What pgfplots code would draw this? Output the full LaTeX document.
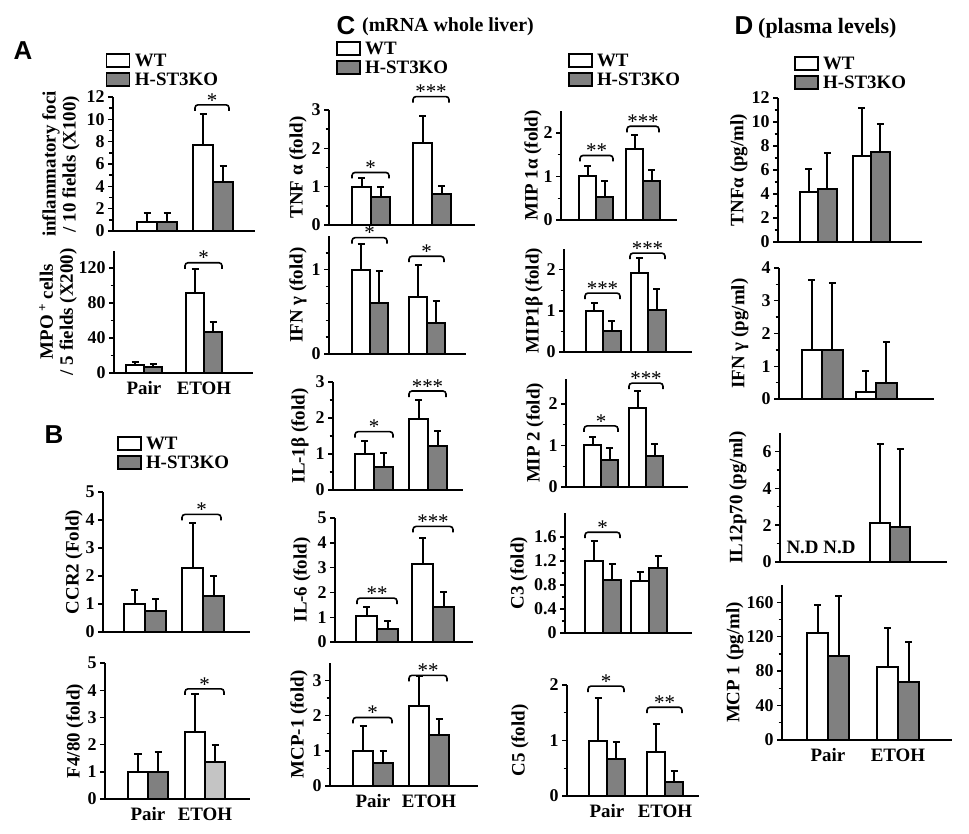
\documentclass[border=0pt]{standalone}
\usepackage{fontspec}
\setmainfont{Liberation Serif}
\newfontfamily\hv{Liberation Sans}
\usepackage{pgfplots}
\pgfplotsset{compat=1.18}
\definecolor{ko}{HTML}{808080}
\definecolor{kol}{HTML}{C4C4C4}
\newcommand{\fs}[1]{\fontsize{#1}{#1}\selectfont\bfseries}
\newcommand{\brk}[4]{\draw[line width=1.6bp, rounded corners=3bp] (axis cs:#1,#3) ++(0,-6bp) -- (axis cs:#1,#3) -- node[midway, above, yshift=-4bp, inner sep=1bp, font=\fontsize{21}{21}\selectfont] {#4} (axis cs:#2,#3) -- ++(0,-6bp);}
\pgfplotsset{
  pnl/.style n args={4}{anchor=south west, at={(#1bp,-#2bp)}, width=#3bp, height=#4bp, xmin=0, xmax=#3},
  base/.style={scale only axis, ybar, enlargelimits=false, ymin=0,
    axis x line=bottom, axis y line=left, axis line style={-, line width=2bp},
    every non boxed x axis/.append style={x axis line style=-},
    every non boxed y axis/.append style={y axis line style=-},
    tick align=outside, major tick length=5bp, minor tick length=3.5bp,
    every tick/.style={black, line width=1.4bp}, xtick style={draw=none}, xtick=\empty,
    tick label style={font=\fs{18}}, xticklabel style={font=\fs{19}},
    /pgf/number format/assume math mode=true,
    label style={font=\fontsize{19}{20}\selectfont\bfseries, align=center}, clip=false,
    legend cell align=left,
    legend style={draw=none, fill=none, inner sep=0pt, font=\fs{19}, row sep=2bp,
      nodes={inner sep=1.5bp}, /tikz/every odd column/.append style={column sep=3bp}}},
  bb/.style 2 args={fill=#1, draw=black, line width=2bp, bar shift=#2bp,
    /pgfplots/legend image code/.code={\draw[##1, line width=1.8bp] (0bp,-6.5bp) rectangle (23bp,6.5bp);},
    error bars/.cd, y dir=plus, y explicit,
    error bar style={line width=2bp, black, solid},
    error mark options={rotate=90, line width=2bp, mark size=3.5bp, black}},
  yl/.style={ylabel style={at={([xshift=-#1bp]axis description cs:0,0.5)}, anchor=center}},
}
\begin{document}
\begin{tikzpicture}
\useasboundingbox (0,0) rectangle (969bp,-834bp);
% ---------------- A ----------------
\begin{axis}[base, pnl={113}{231}{142}{134}, ymax=12, ytick={0,2,...,12}, minor y tick num=1,
  bar width=20bp, yl=52, ylabel={inflammatory foci\\/ 10 fields (X100)},
  legend style={at={(-0.053,1.335)}, anchor=north west}]
\addplot[bb={white}{-10}] coordinates {(44,0.8) +- (0,0.8) (100,7.7) +- (0,2.8)};
\addplot[bb={ko}{10}] coordinates {(44,0.8) +- (0,0.8) (100,4.4) +- (0,1.4)};
\legend{WT,H-ST3KO}
\brk{82}{116}{11.3}{*}
\end{axis}
\begin{axis}[base, pnl={114}{373}{139}{122.5}, ymax=140, ytick={0,40,80,120}, minor y tick num=1,
  bar width=18bp, yl=56, ylabel={MPO\,\textsuperscript{+} cells\\/ 5 fields (X200)},
  xtick={30,90}, xticklabels={Pair,ETOH}]
\addplot[bb={white}{-9}] coordinates {(30,9) +- (0,4) (90,92) +- (0,27)};
\addplot[bb={ko}{9}] coordinates {(30,7) +- (0,3) (90,47) +- (0,11)};
\brk{71}{108}{126}{*}
\end{axis}
% ---------------- B ----------------
\begin{axis}[base, pnl={103}{632}{147}{140}, ymax=5, ytick={0,1,...,5},
  bar width=21bp, yl=29, ylabel={CCR2 (Fold)},
  legend style={at={(0.092,1.407)}, anchor=north west}]
\addplot[bb={white}{-10.5}] coordinates {(42,1.0) +- (0,0.5) (100,2.3) +- (0,1.6)};
\addplot[bb={ko}{10.5}] coordinates {(42,0.75) +- (0,0.42) (100,1.28) +- (0,0.72)};
\legend{WT,H-ST3KO}
\brk{79}{118}{4.2}{*}
\end{axis}
\begin{axis}[base, pnl={105}{799}{145}{136}, ymax=5, ytick={0,1,...,5},
  bar width=20bp, yl=30, ylabel={F4/80 (fold)}, xtick={43,100}, xticklabels={Pair,ETOH}]
\addplot[bb={white}{-10}] coordinates {(43,1.0) +- (0,0.67) (100,2.45) +- (0,1.4)};
\addplot[bb={ko}{10}] coordinates {(43,1.0) +- (0,0.73)};
\addplot[bb={kol}{10}] coordinates {(100,1.37) +- (0,0.61)};
\brk{80}{119}{4.05}{*}
\end{axis}
% ---------------- C col 1 ----------------
\begin{axis}[base, pnl={329}{225}{146}{115}, ymax=3, ytick={0,1,2,3}, minor y tick num=1,
  bar width=19bp, yl=31, ylabel={TNF α (fold)},
  legend style={at={(0.045,1.609)}, anchor=north west}]
\addplot[bb={white}{-9.5}] coordinates {(42,1.0) +- (0,0.22) (103,2.13) +- (0,0.72)};
\addplot[bb={ko}{9.5}] coordinates {(42,0.72) +- (0,0.28) (103,0.82) +- (0,0.2)};
\legend{WT,H-ST3KO}
\brk{23}{60}{1.37}{*}
\brk{84}{120}{3.35}{***}
\end{axis}
\begin{axis}[base, pnl={329}{354}{137}{118}, ymax=1.4, ytick={0,1}, minor ytick={0.2,0.4,0.6,0.8,1.2},
  bar width=18bp, yl=31, ylabel={IFN γ (fold)}]
\addplot[bb={white}{-9}] coordinates {(41,1.0) +- (0,0.3) (98,0.68) +- (0,0.38)};
\addplot[bb={ko}{9}] coordinates {(41,0.6) +- (0,0.39) (98,0.37) +- (0,0.26)};
\brk{23}{58}{1.38}{*}
\brk{80}{115}{1.16}{*}
\end{axis}
\begin{axis}[base, pnl={333}{490}{130}{108}, ymax=3, ytick={0,1,2,3}, minor y tick num=1,
  bar width=19bp, yl=33, ylabel={IL-1β (fold)}]
\addplot[bb={white}{-9.5}] coordinates {(41,1.0) +- (0,0.35) (95,1.98) +- (0,0.52)};
\addplot[bb={ko}{9.5}] coordinates {(41,0.65) +- (0,0.37) (95,1.22) +- (0,0.42)};
\brk{22}{60}{1.62}{*}
\brk{76}{113}{2.75}{***}
\end{axis}
\begin{axis}[base, pnl={335}{642}{138}{124}, ymax=5, ytick={0,1,...,5},
  bar width=21bp, yl=33, ylabel={IL-6 (fold)}]
\addplot[bb={white}{-10.5}] coordinates {(42,1.03) +- (0,0.38) (98,3.13) +- (0,1.07)};
\addplot[bb={ko}{10.5}] coordinates {(42,0.52) +- (0,0.33) (98,1.42) +- (0,0.6)};
\brk{22}{62}{1.77}{**}
\brk{78}{118}{4.66}{***}
\end{axis}
\begin{axis}[base, pnl={330}{786}{148}{123}, ymax=3.5, ytick={0,1,2,3}, minor y tick num=1,
  bar width=20bp, yl=31, ylabel={MCP-1 (fold)}, xtick={43,99}, xticklabels={Pair,ETOH}]
\addplot[bb={white}{-10}] coordinates {(43,1.0) +- (0,0.7) (99,2.27) +- (0,0.85)};
\addplot[bb={ko}{10}] coordinates {(43,0.66) +- (0,0.35) (99,1.45) +- (0,0.45)};
\brk{23}{62}{1.95}{*}
\brk{79}{117}{3.15}{**}
\end{axis}
% ---------------- C col 2 ----------------
\begin{axis}[base, pnl={561}{220}{116}{109}, ymax=2.5, ytick={0,1,2}, minor y tick num=1,
  bar width=17bp, yl=28, ylabel={MIP 1α (fold)},
  legend style={at={(0.056,1.541)}, anchor=north west}]
\addplot[bb={white}{-8.5}] coordinates {(35,1.0) +- (0,0.25) (82,1.62) +- (0,0.32)};
\addplot[bb={ko}{8.5}] coordinates {(35,0.52) +- (0,0.38) (82,0.9) +- (0,0.25)};
\legend{WT,H-ST3KO}
\brk{19}{52}{1.48}{**}
\brk{66}{98}{2.15}{***}
\end{axis}
\begin{axis}[base, pnl={564}{352}{128}{103}, ymax=2.5, ytick={0,1,2}, minor y tick num=1,
  bar width=17.5bp, yl=30, ylabel={MIP1β (fold)}]
\addplot[bb={white}{-8.75}] coordinates {(39,1.0) +- (0,0.2) (84,1.92) +- (0,0.35)};
\addplot[bb={ko}{8.75}] coordinates {(39,0.5) +- (0,0.25) (84,1.02) +- (0,0.5)};
\brk{21}{56}{1.43}{***}
\brk{66}{101}{2.4}{***}
\end{axis}
\begin{axis}[base, pnl={566}{487}{122}{108}, ymax=2.6, ytick={0,1,2}, minor y tick num=1,
  bar width=17bp, yl=31, ylabel={MIP 2 (fold)}]
\addplot[bb={white}{-8.5}] coordinates {(35,1.0) +- (0,0.2) (80,1.9) +- (0,0.4)};
\addplot[bb={ko}{8.5}] coordinates {(35,0.65) +- (0,0.28) (80,0.74) +- (0,0.3)};
\brk{18}{52}{1.47}{*}
\brk{63}{97}{2.5}{***}
\end{axis}
\begin{axis}[base, pnl={565}{633}{127}{120}, ymax=2, ytick={0,0.4,0.8,1.2,1.6}, minor y tick num=1,
  bar width=18bp, yl=46, ylabel={C3 (fold)}]
\addplot[bb={white}{-9}] coordinates {(38,1.2) +- (0,0.34) (84,0.86) +- (0,0.16)};
\addplot[bb={ko}{9}] coordinates {(38,0.88) +- (0,0.27) (84,1.08) +- (0,0.2)};
\brk{20}{55}{1.68}{*}
\end{axis}
\begin{axis}[base, pnl={567}{796}{132}{111}, ymax=2, ytick={0,1,2}, minor y tick num=1,
  bar width=18bp, yl=47, ylabel={C5 (fold)}, xtick={40,98}, xticklabels={Pair,ETOH}]
\addplot[bb={white}{-9}] coordinates {(40,1.0) +- (0,0.77) (98,0.8) +- (0,0.5)};
\addplot[bb={ko}{9}] coordinates {(40,0.66) +- (0,0.32) (98,0.25) +- (0,0.2)};
\brk{21}{57}{1.98}{*}
\brk{80}{115}{1.6}{**}
\end{axis}
% ---------------- D ----------------
\begin{axis}[base, pnl={778}{242}{144}{144}, ymax=12, ytick={0,2,...,12}, minor y tick num=1,
  bar width=18.5bp, yl=39, ylabel={TNFα (pg/ml)},
  legend style={at={(0.108,1.299)}, anchor=north west}]
\addplot[bb={white}{-9.25}] coordinates {(40,4.15) +- (0,1.9) (93,7.2) +- (0,4.0)};
\addplot[bb={ko}{9.25}] coordinates {(40,4.45) +- (0,2.95) (93,7.46) +- (0,2.4)};
\legend{WT,H-ST3KO}
\end{axis}
\begin{axis}[base, pnl={779}{399}{155}{131}, ymax=4, ytick={0,1,...,4}, minor y tick num=1,
  bar width=20.5bp, yl=39, ylabel={IFN γ (pg/ml)}]
\addplot[bb={white}{-10.25}] coordinates {(43,1.5) +- (0,2.13) (97,0.2) +- (0,0.65)};
\addplot[bb={ko}{10.25}] coordinates {(43,1.5) +- (0,2.03) (97,0.5) +- (0,1.25)};
\end{axis}
\begin{axis}[base, pnl={780}{562}{167}{129}, ymax=7, ytick={0,2,4,6}, minor y tick num=1,
  bar width=20bp, yl=42, ylabel={IL12p70 (pg/ml)}]
\addplot[bb={white}{-10}] coordinates {(110,2.1) +- (0,4.3)};
\addplot[bb={ko}{10}] coordinates {(110,1.9) +- (0,4.25)};
\node[font=\fs{19}] at (axis cs:41,0.8) {N.D N.D};
\end{axis}
\begin{axis}[base, pnl={782}{740}{170}{155}, ymax=180, ytick={0,40,...,160}, minor y tick num=1,
  bar width=21bp, yl=47, ylabel={MCP 1 (pg/ml)}, xtick={46,116}, xticklabels={Pair,ETOH}]
\addplot[bb={white}{-10.5}] coordinates {(46,124) +- (0,33) (116,85) +- (0,45)};
\addplot[bb={ko}{10.5}] coordinates {(46,97) +- (0,70) (116,67) +- (0,47)};
\end{axis}
% ---------------- titles ----------------
\node[font=\hv\fontsize{26}{26}\selectfont\bfseries] at (23bp,-51bp) {A};
\node[font=\hv\fontsize{26}{26}\selectfont\bfseries] at (54bp,-435bp) {B};
\node[font=\hv\fontsize{26}{26}\selectfont\bfseries] at (346bp,-26bp) {C};
\node[font=\fs{20}, anchor=west, inner sep=0pt] at (362bp,-27bp) {(mRNA whole liver)};
\node[font=\hv\fontsize{26}{26}\selectfont\bfseries] at (744bp,-26bp) {D};
\node[font=\fs{22}, anchor=west, inner sep=0pt] at (758bp,-28bp) {(plasma levels)};
\end{tikzpicture}
\end{document}
